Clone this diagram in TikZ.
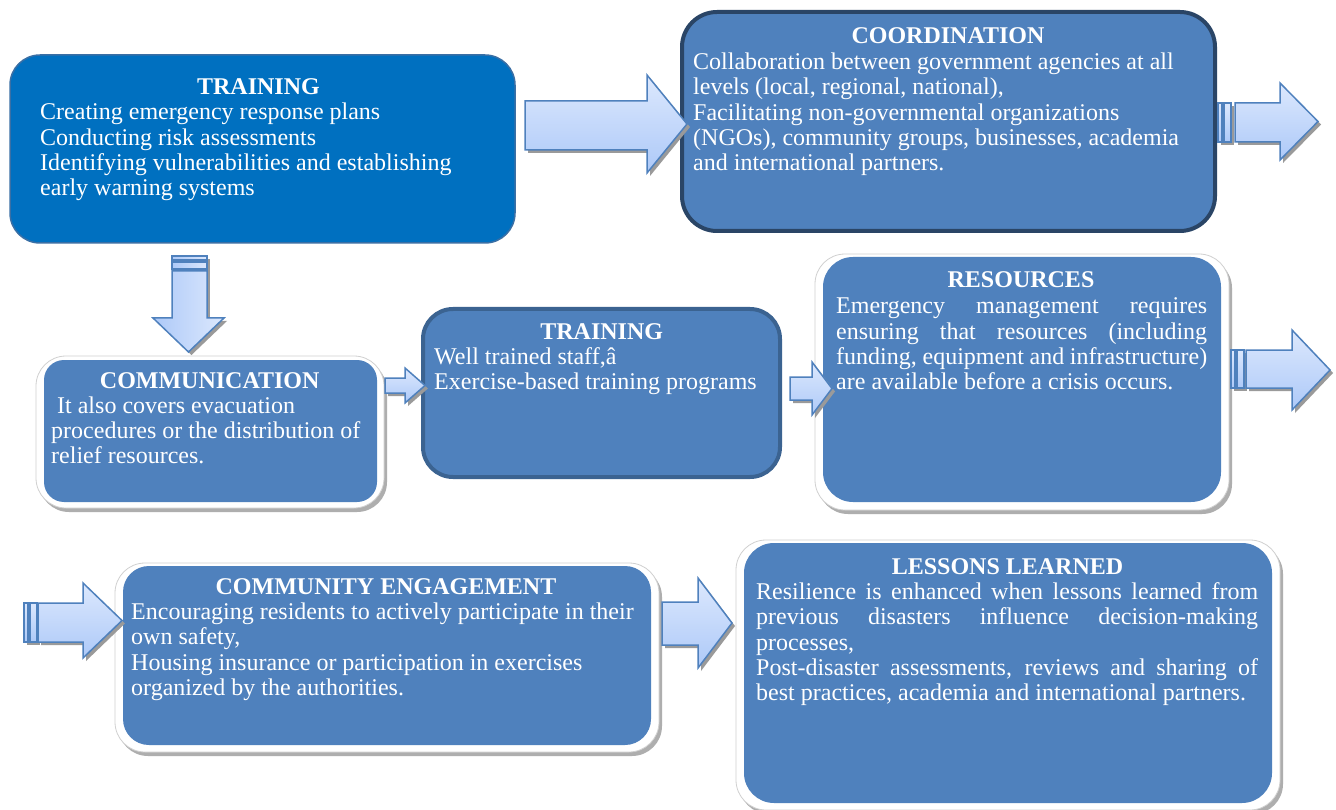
\documentclass[tikz,border=0pt]{standalone}
\usepackage{fontspec}
\setmainfont{Liberation Serif}
\usetikzlibrary{shadows}
\definecolor{dblue}{HTML}{0070C0}
\definecolor{dedge}{HTML}{3A6FA5}
\definecolor{mblue}{HTML}{4F81BD}
\definecolor{navy}{HTML}{2A4566}
\definecolor{tedge}{HTML}{3B6391}
\definecolor{aedge}{HTML}{4F81BD}
\definecolor{atop}{HTML}{DCE8FD}
\definecolor{abot}{HTML}{ADC9F8}
\definecolor{fedge}{HTML}{D0D0D0}
\definecolor{shd}{HTML}{9A9A9A}
\newcommand\natsp{\spaceskip=0pt\xspaceskip=0pt\relax}
\newcommand\jline[2]{{\natsp\makebox[#1][s]{#2}}}
\tikzset{
  every node/.style={font=\fontsize{24}{25.3}\selectfont},
  darkbox/.style={rounded corners=30pt, fill=dblue, draw=dedge, line width=1.5pt, inner sep=0pt},
  coordbox/.style={rounded corners=35pt, fill=mblue, draw=navy, line width=4pt, inner sep=0pt},
  trainbox/.style={rounded corners=30pt, fill=mblue, draw=tedge, line width=4pt, inner sep=0pt},
  framebox/.style={rounded corners=30pt, fill=white, draw=fedge, line width=0.8pt, inner sep=0pt,
     drop shadow={shadow xshift=3pt, shadow yshift=-4pt, fill=shd, opacity=0.8}},
  bluebox/.style={rounded corners=24pt, fill=mblue, inner sep=0pt},
  ttl/.style={font=\fontsize{24}{25.3}\selectfont\bfseries, text=white, anchor=base, inner sep=0pt},
  body/.style={font=\fontsize{24}{25.3}\selectfont, text=white, anchor=base west, inner sep=0pt, align=left, text width=#1},
  ashadow/.style={fill=shd},
  arrowfill/.style={top color=atop, bottom color=abot, draw=aedge, line width=1.5pt, line join=miter},
  darrowfill/.style={left color=abot, right color=atop, draw=aedge, line width=1.5pt, line join=miter},
}
% right block arrow: shaft start x, head base x, tip x, shaft top y, shaft bottom y, head top y, head bottom y
\newcommand\RArr[7]{%
  \fill[ashadow, shift={(3,3)}] (#1,#4) -- (#2,#4) -- (#2,#6) -- (#3,{(#6+#7)/2}) -- (#2,#7) -- (#2,#5) -- (#1,#5) -- cycle;
  \path[arrowfill] (#1,#4) -- (#2,#4) -- (#2,#6) -- (#3,{(#6+#7)/2}) -- (#2,#7) -- (#2,#5) -- (#1,#5) -- cycle;
}
% stripes before a right arrow: left x, top y, bottom y
\newcommand\RStripes[3]{%
  \fill[ashadow, shift={(3,3)}] (#1,#2) rectangle (#1+13,#3);
  \path[arrowfill] (#1,#2) rectangle (#1+4,#3);
  \path[arrowfill] (#1+6,#2) rectangle (#1+13,#3);
}
\begin{document}
\begin{tikzpicture}[x=1pt,y=-1pt]
\useasboundingbox (0,0) rectangle (1336,810);
\fill[white] (0,0) rectangle (1336,810);

% ---- boxes ----
\node[darkbox, minimum width=505pt, minimum height=188pt] (train1) at (262.5,149) {};
\node[coordbox, minimum width=533pt, minimum height=219pt] (coord) at (948.5,121.5) {};
\node[framebox, minimum width=348pt, minimum height=152pt] (commf) at (210,432) {};
\node[bluebox, rounded corners=20pt, minimum width=333pt, minimum height=142pt] (comm) at (210.5,431) {};
\node[trainbox, minimum width=357pt, minimum height=168pt] (train2) at (601.5,393) {};
\node[framebox, minimum width=414pt, minimum height=256pt] (resf) at (1022,382) {};
\node[bluebox, rounded corners=30pt, minimum width=398pt, minimum height=245pt] (res) at (1022,379.5) {};
\node[framebox, minimum width=544pt, minimum height=189pt] (commuf) at (387,657.5) {};
\node[bluebox, rounded corners=26pt, minimum width=528pt, minimum height=179pt] (commu) at (387,655.5) {};
\node[framebox, minimum width=544pt, minimum height=270pt] (lessf) at (1008,675) {};
\node[bluebox, rounded corners=30pt, minimum width=528pt, minimum height=260pt] (less) at (1008,673) {};

% ---- texts ----
\node[ttl] (train1t) at (258.5,95) {TRAINING};
\node[body=470pt] (train1b) at (40,120) {\natsp Creating emergency response plans\\
Conducting risk assessments\\
Identifying vulnerabilities and establishing\\
early warning systems};

\node[ttl] (coordt) at (948,44) {COORDINATION};
\node[body=510pt] (coordb) at (693,69.5) {\natsp Collaboration between government agencies at all\\
levels (local, regional, national),\\
Facilitating non-governmental organizations\\
(NGOs), community groups, businesses, academia\\
and international partners.};

\node[ttl] (commt) at (209.7,388) {COMMUNICATION};
\node[body=320pt] (commb) at (51,413) {\natsp\ It also covers evacuation\\
procedures or the distribution of\\
relief resources.};

\node[ttl] (train2t) at (601.7,339) {TRAINING};
\node[body=340pt] (train2b) at (434,364.5) {\natsp Well trained staff,â\\
Exercise-based training programs};

\node[ttl] (rest) at (1021,288) {RESOURCES};
\node[body=380pt] (resb) at (836,314) {\natsp\jline{371pt}{Emergency management requires}\\
\jline{371pt}{ensuring that resources (including}\\
\jline{371pt}{funding, equipment and infrastructure)}\\
are available before a crisis occurs.};

\node[ttl] (commut) at (386,594) {COMMUNITY ENGAGEMENT};
\node[body=515pt] (commub) at (131,619.5) {\natsp Encouraging residents to actively participate in their\\
own safety,\\
Housing insurance or participation in exercises\\
organized by the authorities.};

\node[ttl] (lesst) at (1007.5,574) {LESSONS LEARNED};
\node[body=510pt] (lessb) at (756,599.5) {\natsp\jline{502pt}{Resilience is enhanced when lessons learned from}\\
\jline{502pt}{previous disasters influence decision-making}\\
processes,\\
\jline{502pt}{Post-disaster assessments, reviews and sharing of}\\
best practices, academia and international partners.};

% ---- block arrows ----
\RArr{525}{647}{687}{101}{150}{75}{173}
\RStripes{1218}{103}{142}
\RArr{1235}{1280}{1318}{103}{142}{83}{160}
\RArr{385}{405}{425}{378}{393}{368}{403}
\RArr{790}{812}{832}{377}{400}{362}{415}
\RStripes{1231}{350}{388}
\RArr{1246}{1292}{1330}{350}{388}{330}{410}
\RStripes{24}{603}{642}
\RArr{38}{83}{122}{603}{642}{583}{658}
\RArr{662}{698}{732}{602}{645}{578}{668}
% down arrow
\fill[ashadow, shift={(3,3)}] (172,256) rectangle (207,320);
\fill[ashadow, shift={(3,3)}] (153,318) -- (188.5,352) -- (224,318) -- cycle;
\path[darrowfill] (172,256) rectangle (207,260);
\path[darrowfill] (172,262) rectangle (207,269);
\path[darrowfill] (172,271) -- (207,271) -- (207,318) -- (224,318) -- (188.5,352) -- (153,318) -- (172,318) -- cycle;
\end{tikzpicture}
\end{document}
